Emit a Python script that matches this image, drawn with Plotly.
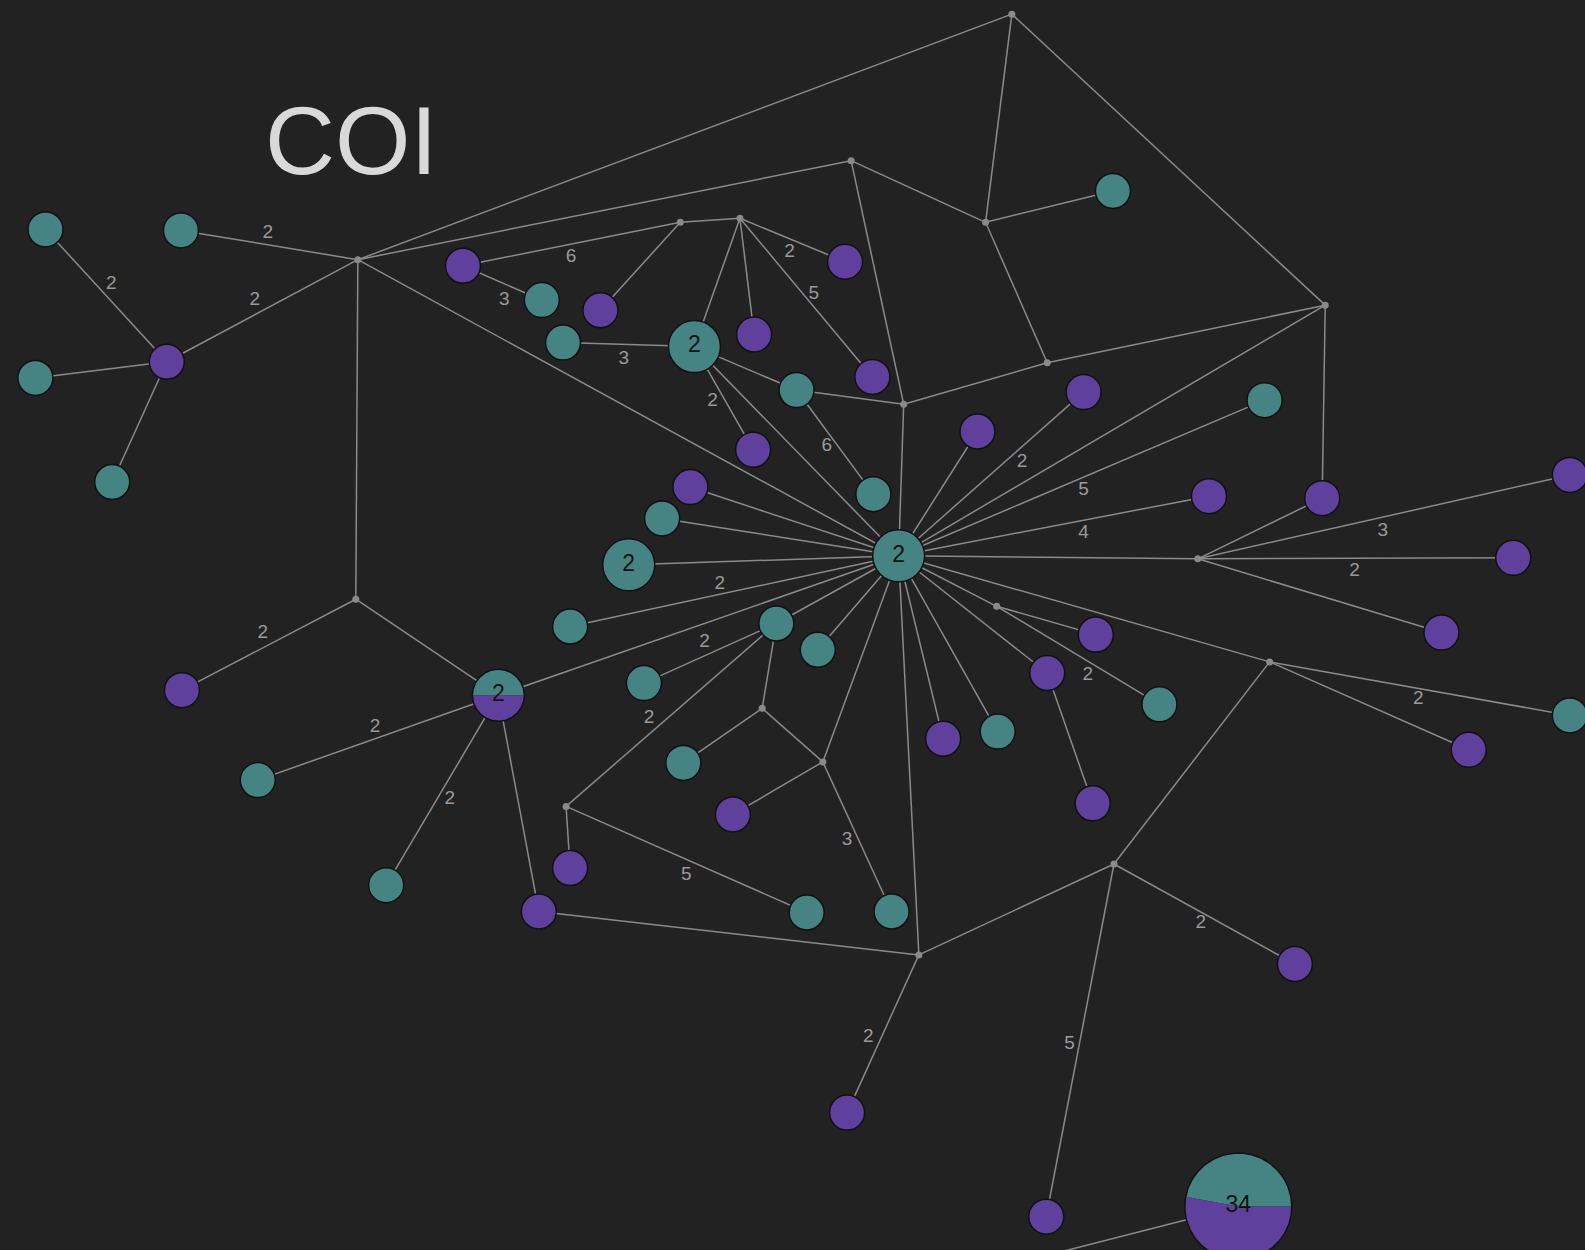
import numpy as np
import plotly.graph_objects as go

# ---------------- data ----------------
# node id -> (x, y) in reference-image coordinates (y downward)
node_ids = ["T1", "T2", "P1", "T3", "T4", "MA", "Mtop", "MB", "MC", "P2", "T5", "P3", "MD", "ME",
            "H2", "P4", "P5", "P6", "T6", "T7", "MF", "T8", "P7", "C", "MG", "T9", "MI", "MH", "Pr",
            "P8", "P9", "T10", "P10", "MJ", "MK", "ML", "P11", "T11", "P12", "MM", "MN", "T12", "T13",
            "T14", "H3", "T15", "P13", "H4", "P14", "P15", "P16", "P17", "T16", "P18", "T17", "P19",
            "MO", "P20", "P21", "P22", "P23", "T18", "MP", "MQ", "T19", "P24", "T20", "P25", "T21",
            "T22", "T23", "P26", "N34", "OFF"]
node_x = [45, 179, 165, 35, 111, 354, 1001, 842, 352, 458, 536, 594, 673, 732,
          687, 746, 836, 863, 557, 788, 894, 864, 745, 889, 975, 1101, 1036, 1311, 1308,
          967, 1072, 1251, 1196, 1185, 1256, 986, 1036, 987, 933, 909, 814, 809, 768,
          564, 622, 655, 683, 493, 1553, 1497, 1426, 1084, 1147, 1081, 1553, 1453,
          1102, 1281, 1035, 533, 838, 637, 560, 754, 676, 725, 882, 564, 798,
          255, 382, 180, 1225, 900]
node_y = [227, 228, 358, 374, 477, 257, 14, 159, 593, 263, 297, 307, 220, 216,
          343, 331, 259, 373, 339, 386, 400, 489, 445, 550, 220, 189, 359, 302, 493,
          427, 388, 396, 491, 553, 655, 600, 666, 724, 731, 945, 754, 643, 617,
          620, 559, 513, 482, 688, 470, 552, 626, 628, 697, 795, 708, 742,
          855, 954, 1204, 902, 1101, 676, 798, 701, 755, 806, 902, 859, 903,
          772, 876, 683, 1194, 1277]
# kind: t = teal haplotype, p = purple haplotype, m = median vector, hub = count-2 teal,
# mix = mixed pie, off = off-canvas end point
node_kind = ["t", "t", "p", "t", "t", "m", "m", "m", "m", "p", "t", "p", "m", "m",
             "hub", "p", "p", "p", "t", "t", "m", "t", "p", "hub", "m", "t", "m", "m", "p",
             "p", "p", "t", "p", "m", "m", "m", "p", "t", "p", "m", "m", "t", "t",
             "t", "hub", "t", "p", "mix", "p", "p", "p", "p", "t", "p", "t", "p",
             "m", "p", "p", "p", "p", "t", "m", "m", "t", "p", "t", "p", "t",
             "t", "t", "p", "mix", "off"]

# edges (from, to, mutation label or "")
edges = [
    ("T1", "P1", "2"), ("T3", "P1", ""), ("T4", "P1", ""), ("P1", "MA", "2"), ("T2", "MA", "2"),
    ("MA", "Mtop", ""), ("MA", "MB", ""), ("MA", "C", ""), ("MA", "MC", ""),
    ("P2", "MD", "6"), ("P2", "T5", "3"), ("P3", "MD", ""), ("MD", "ME", ""), ("ME", "H2", ""),
    ("ME", "P4", ""), ("ME", "P5", "2"), ("ME", "P6", "5"),
    ("T6", "H2", "3"), ("H2", "T7", ""), ("T7", "MF", ""), ("T7", "T8", "6"), ("H2", "P7", "2"), ("H2", "C", ""),
    ("MB", "MG", ""), ("MB", "MF", ""), ("Mtop", "MG", ""), ("Mtop", "MH", ""), ("MG", "T9", ""),
    ("MG", "MI", ""), ("MI", "MF", ""), ("MI", "MH", ""), ("MH", "C", ""), ("MH", "Pr", ""), ("MF", "C", ""),
    ("C", "P8", ""), ("C", "P9", "2"), ("C", "T10", "5"), ("C", "P10", "4"), ("C", "MJ", ""), ("C", "MK", ""),
    ("C", "ML", ""), ("C", "P11", ""), ("C", "T11", ""), ("C", "P12", ""), ("C", "MM", ""), ("C", "MN", ""),
    ("C", "T12", ""), ("C", "T13", ""), ("C", "T14", "2"), ("C", "H3", ""), ("C", "T15", ""), ("C", "P13", ""),
    ("C", "H4", ""),
    ("MJ", "Pr", ""), ("MJ", "P14", "3"), ("MJ", "P15", "2"), ("MJ", "P16", ""),
    ("ML", "P17", ""), ("ML", "T16", "2"), ("P11", "P18", ""),
    ("MK", "T17", "2"), ("MK", "P19", ""), ("MK", "MO", ""),
    ("MO", "MM", ""), ("MO", "P20", "2"), ("MO", "P21", "5"),
    ("MM", "P22", ""), ("MM", "P23", "2"), ("N34", "OFF", ""),
    ("T13", "T18", "2"), ("T13", "MP", "2"), ("T13", "MQ", ""),
    ("MQ", "T19", ""), ("MQ", "MN", ""), ("MN", "P24", ""), ("MN", "T20", "3"),
    ("MP", "P25", ""), ("MP", "T21", "5"),
    ("H4", "MC", ""), ("H4", "T22", "2"), ("H4", "T23", "2"), ("H4", "P22", ""),
    ("MC", "P26", "2"),
]
# label positions for mutation counts, same order as labelled edges
label_x = [110, 252, 265, 565, 499, 781, 805, 617, 818, 705, 1011, 1072, 1072, 712,
           1368, 1340, 1076, 1403, 1188, 1058, 859, 697, 642, 838, 679, 371, 445, 260]
label_y = [281, 297, 231, 255, 297, 250, 291, 356, 442, 397, 457, 485, 528, 578,
           526, 565, 668, 692, 914, 1033, 1026, 636, 711, 832, 866, 720, 791, 627]

# mixed nodes: id, teal count, purple count, label
mix_ids = ["H4", "N34"]
mix_teal = [1, 16]
mix_purple = [1, 18]
mix_label = ["2", "34"]
mix_diam_px = [52, 107]

hub_label = "2"
title_text = "COI"

# ---------------- style ----------------
BG = "#222222"
TEAL = "#458482"
PURPLE = "#5f409c"
EDGE = "#8a8a8a"
LABEL = "#9a9a9a"
OUTLINE = "#111111"
W, H = 1585, 1250
XR, YR = 1568, 1237
PX = W / XR  # pixels per data unit

pos = {n: (x, y) for n, x, y in zip(node_ids, node_x, node_y)}
kind = dict(zip(node_ids, node_kind))

fig = go.Figure()

# edges
ex, ey = [], []
for a, b, _ in edges:
    ex += [pos[a][0], pos[b][0], None]
    ey += [pos[a][1], pos[b][1], None]
fig.add_trace(go.Scatter(x=ex, y=ey, mode="lines", line=dict(color=EDGE, width=1.5),
                         hoverinfo="skip", showlegend=False))

# median vectors
mv = [n for n in node_ids if kind[n] == "m"]
fig.add_trace(go.Scatter(x=[pos[n][0] for n in mv], y=[pos[n][1] for n in mv], mode="markers",
                         marker=dict(size=7, color=EDGE, line=dict(width=0)),
                         hoverinfo="skip", showlegend=False))

# single-colour haplotypes
for k, col, size in [("t", TEAL, 35), ("p", PURPLE, 35), ("hub", TEAL, 52)]:
    ns = [n for n in node_ids if kind[n] == k]
    fig.add_trace(go.Scatter(x=[pos[n][0] for n in ns], y=[pos[n][1] for n in ns], mode="markers",
                             marker=dict(size=size, color=col, line=dict(width=1.5, color=OUTLINE)),
                             hoverinfo="skip", showlegend=False))

# hub labels
hubs = [n for n in node_ids if kind[n] == "hub"]
fig.add_trace(go.Scatter(x=[pos[n][0] for n in hubs], y=[pos[n][1] for n in hubs], mode="text",
                         text=[hub_label] * len(hubs),
                         textfont=dict(size=23, color="#111111", family="Liberation Sans"),
                         hoverinfo="skip", showlegend=False))

# mixed pie nodes
for nid, nt, npu, lab, dpx in zip(mix_ids, mix_teal, mix_purple, mix_label, mix_diam_px):
    cx, cy = pos[nid]
    r = dpx / 2 / PX
    split = 360.0 * nt / (nt + npu)
    for a0, a1, col in [(0, split, TEAL), (split, 360, PURPLE)]:
        th = np.radians(np.linspace(a0, a1, 120))
        px = np.concatenate([[cx], cx + r * np.cos(th), [cx]])
        py = np.concatenate([[cy], cy - r * np.sin(th), [cy]])
        fig.add_trace(go.Scatter(x=px, y=py, mode="lines", fill="toself", fillcolor=col,
                                 line=dict(width=0, color=col), hoverinfo="skip", showlegend=False))
    th = np.radians(np.linspace(0, 360, 240))
    fig.add_trace(go.Scatter(x=cx + r * np.cos(th), y=cy - r * np.sin(th), mode="lines",
                             line=dict(width=1.5, color=OUTLINE), hoverinfo="skip", showlegend=False))
    fig.add_trace(go.Scatter(x=[cx], y=[cy], mode="text", text=[lab],
                             textfont=dict(size=23, color="#111111", family="Liberation Sans"),
                             hoverinfo="skip", showlegend=False))

# mutation labels
labels = [l for _, _, l in edges if l]
fig.add_trace(go.Scatter(x=label_x, y=label_y, mode="text", text=labels,
                         textfont=dict(size=19, color=LABEL, family="Liberation Sans"),
                         hoverinfo="skip", showlegend=False))

# title
fig.add_annotation(x=347, y=139, text=title_text, showarrow=False, xref="x", yref="y",
                   font=dict(size=97, color="#d9d9d9", family="Liberation Sans"))

fig.update_layout(
    width=W, height=H, margin=dict(l=0, r=0, t=0, b=0),
    paper_bgcolor=BG, plot_bgcolor=BG,
    xaxis=dict(range=[0, XR], visible=False, fixedrange=True),
    yaxis=dict(range=[YR, 0], visible=False, fixedrange=True),
    showlegend=False,
)
fig.write_html(
    "out.html",
    config={"displayModeBar": False},
    post_script="document.body.style.margin='0';document.body.style.padding='0';"
                "document.body.style.backgroundColor='#222222';"
                "document.documentElement.style.overflow='hidden';",
)
